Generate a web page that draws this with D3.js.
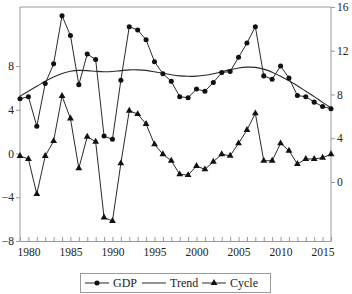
<!DOCTYPE html>
<html><head><meta charset="utf-8">
<script src="https://cdn.jsdelivr.net/npm/d3@7/dist/d3.min.js"></script>
<style>html,body{margin:0;padding:0;background:#fff;}svg{display:block;} svg text{font-family:"Liberation Serif","Times New Roman",serif;}</style>
</head><body>
<script>
const years = d3.range(1979, 2017);
const gdp = [7.6,7.8,5.1,9.0,10.8,15.2,13.4,8.9,11.7,11.2,4.2,3.9,9.3,14.2,13.9,13.0,11.0,9.9,9.2,7.8,7.7,8.5,8.3,9.1,10.0,10.1,11.4,12.7,14.2,9.7,9.4,10.6,9.5,7.9,7.8,7.3,6.9,6.7];
const trend = [7.85,8.3,8.75,9.2,9.6,9.92,10.12,10.2,10.18,10.12,10.08,10.1,10.18,10.25,10.25,10.2,10.08,9.94,9.8,9.7,9.66,9.68,9.76,9.9,10.08,10.27,10.42,10.5,10.48,10.32,10.04,9.67,9.25,8.8,8.3,7.8,7.28,6.77];
const cycle = [-0.23,-0.5,-3.7,-0.23,1.14,5.26,3.2,-1.35,1.54,1.08,-5.85,-6.17,-0.9,3.91,3.61,2.7,0.84,-0.07,-0.66,-1.9,-1.97,-1.14,-1.45,-0.75,-0.07,-0.2,0.93,2.15,3.67,-0.66,-0.66,0.93,0.26,-0.96,-0.5,-0.5,-0.38,-0.07];
const leftTicks = [-8,-4,0,4,8];
const rightTicks = [0,4,8,12,16];
const yearLabels = [1980,1985,1990,1995,2000,2005,2010,2015];
const legendItems = ["GDP","Trend","Cycle"];

const W = 352, H = 294;
const svg = d3.select("body").append("svg").attr("width", W).attr("height", H);
const font = '"Liberation Serif","Times New Roman",serif';
const axisCol = "#9a9a9a", lineCol = "#2a2a2a", textCol = "#222";

const x = d3.scaleLinear().domain([1979, 2016]).range([20, 331]);
const yL = d3.scaleLinear().domain([-8, 13.4]).range([241, 7]);
const yR = d3.scaleLinear().domain([-5.4, 16]).range([241, 7]);

const g = svg.append("g");
g.append("line").attr("x1", 20).attr("x2", 331).attr("y1", 7).attr("y2", 7).attr("stroke", axisCol).attr("stroke-width", 1);

const la = g.append("g").attr("transform", "translate(20,0)")
  .call(d3.axisLeft(yL).tickValues(leftTicks).tickSize(4).tickSizeOuter(0).tickFormat(d3.format("d")));
const ra = g.append("g").attr("transform", "translate(331,0)")
  .call(d3.axisRight(yR).tickValues(rightTicks).tickSize(4).tickSizeOuter(0).tickFormat(d3.format("d")));
const ba = g.append("g").attr("transform", "translate(0,241)")
  .call(d3.axisBottom(x).tickValues(years).tickSize(-4).tickSizeOuter(0).tickFormat(d => yearLabels.includes(d) ? d : ""));
[la, ra, ba].forEach(a => {
  a.attr("font-family", null);
  a.select(".domain").attr("stroke", axisCol);
  a.selectAll(".tick line").attr("stroke", axisCol);
  a.selectAll(".tick text").attr("fill", textCol).style("font-family", font).style("font-size", "11.5px");
});
la.selectAll(".tick text").attr("x", -6);
ra.selectAll(".tick text").attr("x", 6);
ba.selectAll(".tick text").attr("y", 7);
la.select(".domain").attr("d", "M0,7V241");
ra.select(".domain").attr("d", "M0,7V241");

const gdpLine = d3.line().x((d,i) => x(years[i])).y(d => yR(d));
const trendLine = d3.line().x((d,i) => x(years[i])).y(d => yR(d)).curve(d3.curveCatmullRom);
const cycLine = d3.line().x((d,i) => x(years[i])).y(d => yL(d));

svg.append("path").datum(trend).attr("d", trendLine).attr("fill", "none").attr("stroke", lineCol).attr("stroke-width", 1.1);
svg.append("path").datum(gdp).attr("d", gdpLine).attr("fill", "none").attr("stroke", lineCol).attr("stroke-width", 1);
svg.append("path").datum(cycle).attr("d", cycLine).attr("fill", "none").attr("stroke", lineCol).attr("stroke-width", 1);

const circ = d3.symbol().type(d3.symbolCircle).size(20);
const tri = d3.symbol().type(d3.symbolTriangle).size(20);
svg.append("g").selectAll("path").data(gdp).join("path")
  .attr("d", circ).attr("transform", (d,i) => `translate(${x(years[i])},${yR(d)})`).attr("fill", "#111");
svg.append("g").selectAll("path").data(cycle).join("path")
  .attr("d", tri).attr("transform", (d,i) => `translate(${x(years[i])},${yL(d)})`).attr("fill", "#111");

const lg = svg.append("g");
lg.append("rect").attr("x", 80.5).attr("y", 273.5).attr("width", 190).attr("height", 19)
  .attr("fill", "#fff").attr("stroke", axisCol);
const lx = [85, 142, 202];
legendItems.forEach((name, i) => {
  const y0 = 283;
  lg.append("line").attr("x1", lx[i]).attr("x2", lx[i] + 24).attr("y1", y0).attr("y2", y0).attr("stroke", lineCol);
  if (i === 0) lg.append("path").attr("d", circ).attr("transform", `translate(${lx[i]+12},${y0})`).attr("fill", "#111");
  if (i === 2) lg.append("path").attr("d", tri).attr("transform", `translate(${lx[i]+12},${y0})`).attr("fill", "#111");
  lg.append("text").attr("x", lx[i] + 28).attr("y", y0 + 4).text(name)
    .style("font-family", font).style("font-size", "12px").attr("fill", textCol);
});
</script>
</body></html>
